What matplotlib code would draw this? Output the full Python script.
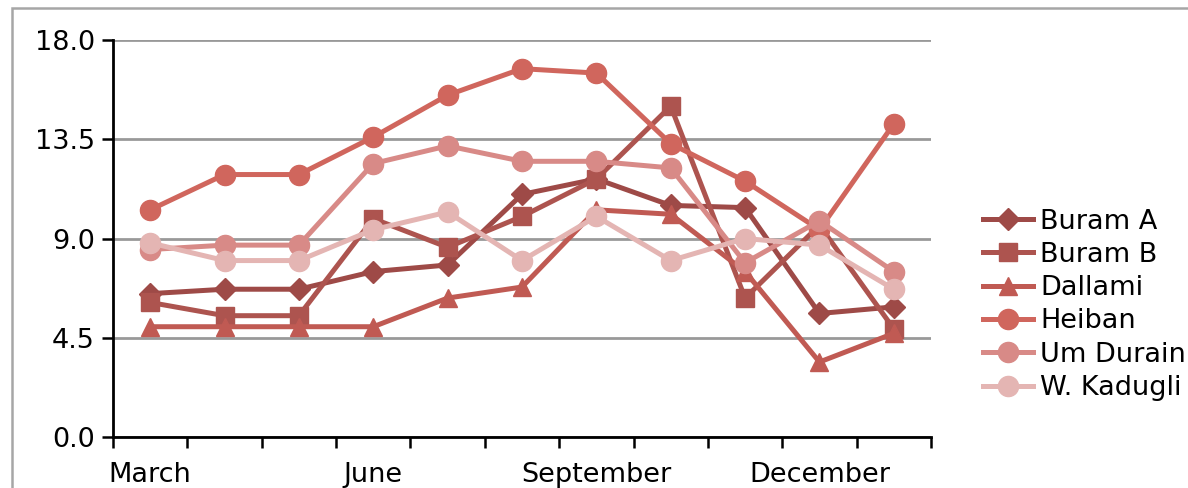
import matplotlib.pyplot as plt
from matplotlib.patches import Rectangle

months = ["March", "April", "May", "June", "July", "August", "September",
          "October", "November", "December", "January"]
tick_labels = ["March", "", "", "June", "", "", "September", "", "", "December", ""]

buram_a = [6.5, 6.7, 6.7, 7.5, 7.8, 11.0, 11.7, 10.5, 10.4, 5.6, 5.9]
buram_b = [6.1, 5.5, 5.5, 9.9, 8.6, 10.0, 11.7, 15.0, 6.3, 9.6, 4.9]
dallami = [5.0, 5.0, 5.0, 5.0, 6.3, 6.8, 10.3, 10.1, 7.5, 3.4, 4.7]
heiban = [10.3, 11.9, 11.9, 13.6, 15.5, 16.7, 16.5, 13.3, 11.6, 9.4, 14.2]
um_durain = [8.5, 8.7, 8.7, 12.4, 13.2, 12.5, 12.5, 12.2, 7.9, 9.8, 7.5]
w_kadugli = [8.8, 8.0, 8.0, 9.4, 10.2, 8.0, 10.0, 8.0, 9.0, 8.7, 6.7]

series = [
    ("Buram A", buram_a, "#9E4A47", "D", 11),
    ("Buram B", buram_b, "#AD544F", "s", 12.5),
    ("Dallami", dallami, "#C05A53", "^", 13),
    ("Heiban", heiban, "#D0665D", "o", 14.5),
    ("Um Durain", um_durain, "#D88A87", "o", 14.5),
    ("W. Kadugli", w_kadugli, "#E4B5B3", "o", 14.5),
]

plt.rcParams['font.family'] = ['DejaVu Sans']
fig = plt.figure(figsize=(11.88, 4.88), dpi=100)
ax = fig.add_axes([113/1188, 51/488, (931-113)/1188, (437-40)/488])

x = list(range(len(months)))
for name, vals, col, mk, ms in series:
    ax.plot(x, vals, color=col, lw=3.6, marker=mk, ms=ms,
            markerfacecolor=col, markeredgecolor=col, label=name, zorder=3)

ax.set_xlim(-0.5, len(months) - 0.5)
ax.set_ylim(0, 18)
ax.set_yticks([0, 4.5, 9, 13.5, 18])
ax.set_yticklabels(["0.0", "4.5", "9.0", "13.5", "18.0"])
ax.set_xticks(x)
ax.set_xticklabels(tick_labels)
ax.set_xticks([i - 0.5 for i in range(len(months) + 1)], minor=True)
ax.tick_params(axis='x', which='major', length=0, pad=18, labelsize=19.5)
ax.tick_params(axis='x', which='minor', length=8, width=1.8, direction='out')
ax.tick_params(axis='y', length=8, width=1.8, pad=5, labelsize=19.5)
ax.yaxis.grid(True, color='#999999', lw=2)
ax.set_axisbelow(True)
for s in ['top', 'right']:
    ax.spines[s].set_visible(False)
for s in ['left', 'bottom']:
    ax.spines[s].set_linewidth(2)
    ax.spines[s].set_zorder(4)

ax.legend(loc='center left', bbox_to_anchor=(1.0636, 0.333), frameon=False,
          fontsize=19.5, handlelength=1.85, handletextpad=0.26, labelspacing=0.27,
          borderaxespad=0, borderpad=0)

fig.patches.append(Rectangle((12/1188, -0.1), 1.2, (488-7.5)/488 + 0.1,
                             transform=fig.transFigure, fill=False,
                             edgecolor='#A6A6A6', lw=1.8))

fig.savefig("out.png", dpi=100)
